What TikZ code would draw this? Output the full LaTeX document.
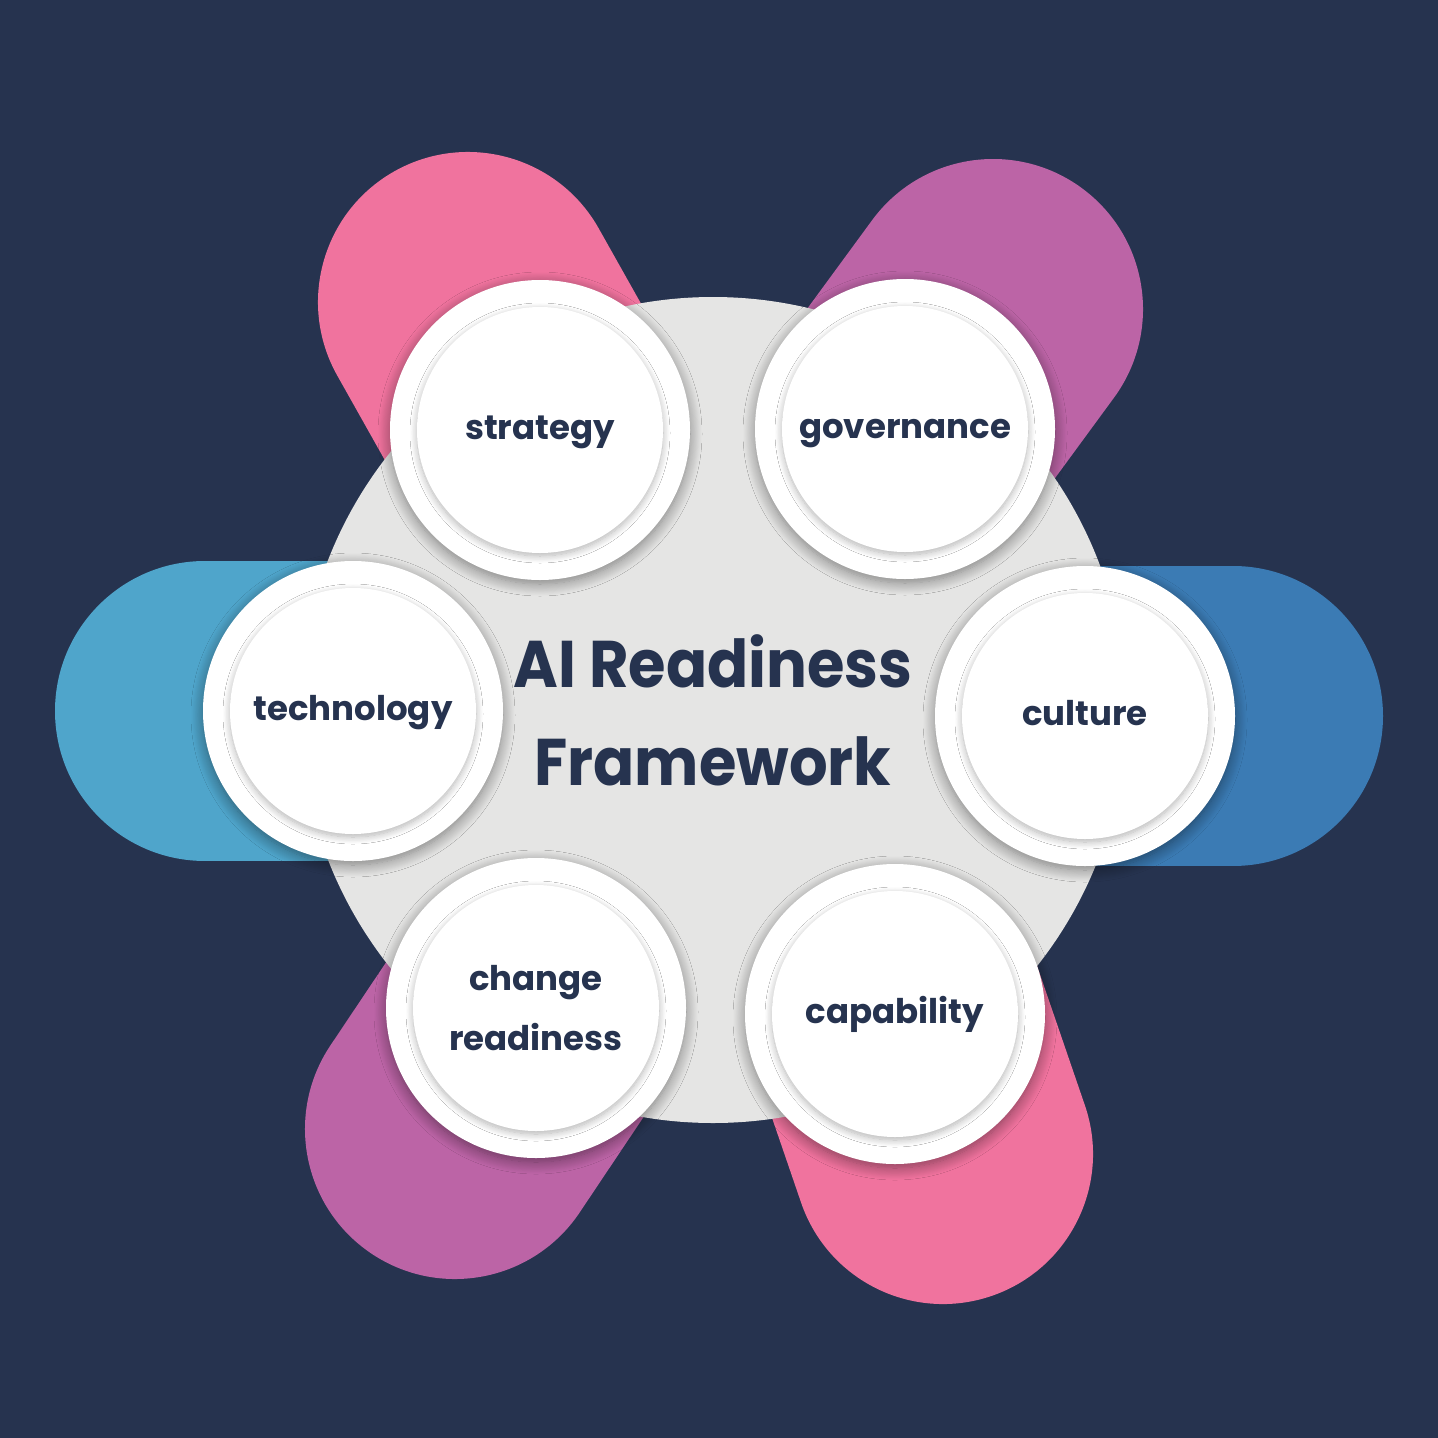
\documentclass[tikz,border=0pt]{standalone}
\usepackage{fontspec}
\setmainfont{Poppins}
\newfontfamily\titlefont{Poppins}[FakeStretch=0.92]
\usetikzlibrary{shadows.blur}

\definecolor{navy}{HTML}{26334F}
\definecolor{hubgray}{HTML}{E5E5E4}
\definecolor{pinkc}{HTML}{F0739E}
\definecolor{purplec}{HTML}{BC64A6}
\definecolor{skyc}{HTML}{4FA5CB}
\definecolor{bluec}{HTML}{3B7BB4}

\tikzset{
  pill/.style={line width=300pt, line cap=round},
  ring/.style={circle, fill=white, minimum size=300pt, inner sep=0pt,
    blur shadow={shadow xshift=0pt, shadow yshift=-4pt, shadow blur radius=12pt,
      shadow blur steps=14, shadow opacity=45}},
  disc/.style={circle, fill=white, minimum size=246pt, inner sep=0pt, align=center, text=navy,
    font=\fontsize{34}{60}\selectfont\bfseries,
    blur shadow={shadow xshift=0pt, shadow yshift=-3pt, shadow blur radius=7pt,
      shadow blur steps=12, shadow opacity=30}},
  oneline/.style={text height=26pt, text depth=8pt},
  hub/.style={circle, fill=hubgray, minimum size=826pt, inner sep=0pt, align=center, text=navy,
    font=\titlefont\fontsize{66}{98}\selectfont\bfseries}
}

\begin{document}
\begin{tikzpicture}[x=1pt,y=-1pt]
  \fill[navy] (0,0) rectangle (1438,1438);

  \coordinate (c-strategy) at (540,430);
  \coordinate (c-governance) at (905,429);
  \coordinate (c-technology) at (353,711);
  \coordinate (c-culture) at (1085,716);
  \coordinate (c-change) at (536,1008);
  \coordinate (c-capability) at (895,1014);

  \coordinate (e-strategy) at (468,302);
  \coordinate (e-governance) at (993,309);
  \coordinate (e-technology) at (205,711);
  \coordinate (e-culture) at (1233,716);
  \coordinate (e-change) at (455,1129);
  \coordinate (e-capability) at (943,1154);

  \draw[pill, pinkc] (c-strategy) -- (e-strategy);
  \draw[pill, purplec] (c-governance) -- (e-governance);
  \draw[pill, skyc] (c-technology) -- (e-technology);
  \draw[pill, bluec] (c-culture) -- (e-culture);
  \draw[pill, purplec] (c-change) -- (e-change);
  \draw[pill, pinkc] (c-capability) -- (e-capability);

  \node[hub] (hub) at (713,710) {AI Readiness\\Framework};

  \node[ring] (strategy-ring) at (c-strategy) {};
  \node[disc, oneline] (strategy) at (c-strategy) {strategy};

  \node[ring] (governance-ring) at (c-governance) {};
  \node[disc, oneline] (governance) at (c-governance) {governance};

  \node[ring] (technology-ring) at (c-technology) {};
  \node[disc, oneline] (technology) at (c-technology) {technology};

  \node[ring] (culture-ring) at (c-culture) {};
  \node[disc, oneline] (culture) at (c-culture) {culture};

  \node[ring] (change-ring) at (c-change) {};
  \node[disc] (change) at (c-change) {change\\readiness};

  \node[ring] (capability-ring) at (c-capability) {};
  \node[disc, oneline] (capability) at (c-capability) {capability};
\end{tikzpicture}
\end{document}
